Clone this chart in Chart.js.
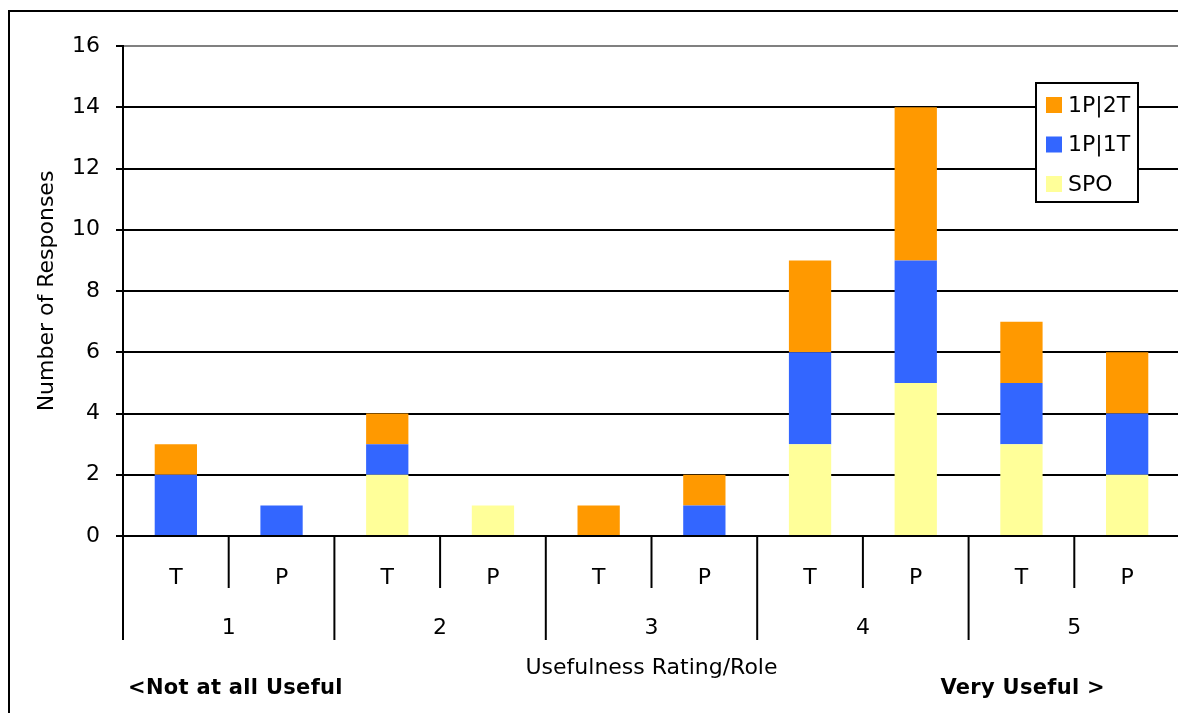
<!DOCTYPE html>
<html>
<head>
<meta charset="utf-8">
<script src="https://cdn.jsdelivr.net/npm/chart.js@4/dist/chart.umd.min.js"></script>
<style>
    html, body { margin: 0; padding: 0; background: #fff; overflow: hidden; }
    #usefulness { display: block; }
</style>
</head>
<body>
<canvas id="usefulness" width="1190" height="713"></canvas>
<script>
            // usefulness rating groups and the two roles in each
            const ratings = ['1', '2', '3', '4', '5'];
            const roles = ['T', 'P'];

            // responses per rating/role, in order 1T,1P,2T,2P,...
            const spo = [0, 0, 2, 1, 0, 0, 3, 5, 3, 2];
            const onePoneT = [2, 1, 1, 0, 0, 1, 3, 4, 2, 2];
            const onePtwoT = [1, 0, 1, 0, 1, 1, 3, 5, 2, 2];

            const yTicks = [0, 2, 4, 6, 8, 10, 12, 14, 16];
            const endLabels = ['<Not at all Useful', 'Very Useful >'];

            const labels = [];
            ratings.forEach(r => roles.forEach(p => labels.push(p)));

            const FONT = '"DejaVu Sans", sans-serif';
            const SIZE = 22;

            const usefulnessData = {
                labels: labels,
                datasets: [
                    {
                        label: 'SPO',
                        backgroundColor: '#FFFF99',
                        data: spo,
                    },
                    {
                        label: '1P|1T',
                        backgroundColor: '#3366FF',
                        data: onePoneT,
                    },
                    {
                        label: '1P|2T',
                        backgroundColor: '#FF9900',
                        data: onePtwoT,
                    }
                ]
            };

            // frame, grouped axis, end captions and the boxed legend
            const extras = {
                id: 'extras',
                beforeDraw(chart) {
                    const ctx = chart.ctx;
                    ctx.save();
                    ctx.strokeStyle = '#000';
                    ctx.lineWidth = 2;
                    ctx.strokeRect(9, 11, 1400, 1000);
                    ctx.restore();
                },
                afterDraw(chart) {
                    const ctx = chart.ctx;
                    const x = chart.scales.x;
                    const area = chart.chartArea;
                    const n = labels.length;
                    ctx.save();
                    ctx.strokeStyle = '#000';
                    ctx.lineWidth = 2;

                    // dividers below the axis
                    for (let i = 0; i <= n; i++) {
                        let px;
                        if (i === 0) px = area.left;
                        else if (i === n) px = area.right;
                        else px = (x.getPixelForValue(i - 1) + x.getPixelForValue(i)) / 2;
                        const long = i % roles.length === 0;
                        ctx.beginPath();
                        ctx.moveTo(px, area.bottom);
                        ctx.lineTo(px, area.bottom + (long ? 104 : 52));
                        ctx.stroke();
                    }

                    ctx.fillStyle = '#000';
                    ctx.font = SIZE + 'px ' + FONT;
                    ctx.textAlign = 'center';
                    ctx.textBaseline = 'middle';
                    ratings.forEach((r, g) => {
                        const a = x.getPixelForValue(g * roles.length);
                        const b = x.getPixelForValue(g * roles.length + roles.length - 1);
                        ctx.fillText(r, (a + b) / 2, area.bottom + 92);
                    });

                    ctx.font = 'bold 21px ' + FONT;
                    ctx.letterSpacing = '0.3px';
                    ctx.textAlign = 'left';
                    ctx.fillText(endLabels[0], 128, 689);
                    ctx.textAlign = 'right';
                    ctx.fillText(endLabels[1], 1105, 689);
                    ctx.letterSpacing = '0px';

                    // legend, top series first
                    ctx.fillStyle = '#fff';
                    ctx.fillRect(1036, 83, 102, 119);
                    ctx.strokeRect(1036, 83, 102, 119);
                    ctx.font = SIZE + 'px ' + FONT;
                    ctx.textAlign = 'left';
                    const sets = chart.data.datasets.slice().reverse();
                    sets.forEach((ds, i) => {
                        const y = 105 + i * 39.5;
                        ctx.fillStyle = ds.backgroundColor;
                        ctx.fillRect(1046, y - 8, 16, 16);
                        ctx.fillStyle = '#000';
                        ctx.fillText(ds.label, 1068, y + 1);
                    });
                    ctx.restore();
                }
            };

            const usefulnessCfg = {
                type: 'bar',
                data: usefulnessData,
                plugins: [extras],
                options: {
                    responsive: false,
                    animation: false,
                    layout: { padding: { top: 46, left: 0, right: 10, bottom: 0 } },
                    datasets: {
                        bar: {
                            categoryPercentage: 1,
                            barPercentage: 0.4,
                            borderWidth: 0,
                        }
                    },
                    plugins: {
                        legend: { display: false },
                        tooltip: { enabled: false },
                    },
                    scales: {
                        x: {
                            stacked: true,
                            afterFit: s => { s.height = 177; },
                            grid: { display: false },
                            border: { display: false },
                            ticks: {
                                color: '#000',
                                font: { family: FONT, size: SIZE },
                                padding: 21,
                                maxRotation: 0,
                            },
                            title: {
                                display: true,
                                text: 'Usefulness Rating/Role',
                                color: '#000',
                                font: { family: FONT, size: SIZE },
                                padding: { top: 0, bottom: 32 },
                            }
                        },
                        y: {
                            stacked: true,
                            min: 0,
                            max: 16,
                            afterFit: s => { s.width = 123; },
                            afterBuildTicks: s => { s.ticks = yTicks.map(v => ({ value: v })); },
                            grid: {
                                color: c => c.tick && c.tick.value === 16 ? '#808080' : '#000',
                                tickColor: '#000',
                                lineWidth: 2,
                                tickLength: 7,
                            },
                            border: { display: true, color: '#000', width: 2 },
                            ticks: {
                                color: '#000',
                                font: { family: FONT, size: SIZE },
                                padding: 16,
                            },
                            title: {
                                display: true,
                                text: 'Number of Responses',
                                color: '#000',
                                font: { family: FONT, size: SIZE },
                                padding: { top: 34, bottom: 0 },
                            }
                        }
                    }
                }
            };

            const usefulness = new Chart(
                document.getElementById('usefulness'),
                usefulnessCfg
            );
</script>
</body>
</html>
